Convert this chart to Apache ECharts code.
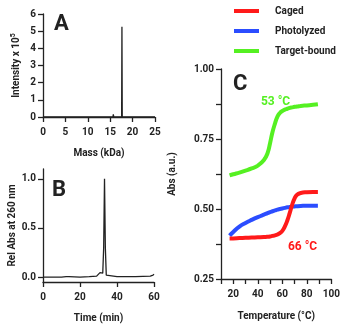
<!DOCTYPE html>
<html>
<head>
<meta charset="utf-8">
<script src="https://cdn.jsdelivr.net/npm/echarts@6/dist/echarts.min.js"></script>
<style>
  html, body { margin: 0; padding: 0; background: #fff; }
  #chart { width: 343px; height: 326px; }
</style>
</head>
<body>
<div id="chart"></div>
<script>
// ---- panel A : deconvoluted mass spectrum
var massKDa   = [0, 11.5, 11.65, 11.8, 15.0, 15.05, 15.1, 15.6, 15.7, 15.8, 17.55, 17.62, 17.69, 25];
var intensity = [0, 0, 0.06, 0, 0, 0.05, 0, 0, 0.15, 0, 0, 5.25, 0, 0];

// ---- panel B : HPLC trace
var timeMin = [0, 5, 10, 12.5, 13.2, 14, 20, 25, 29, 30, 30.8, 31.3, 31.8, 32.3, 32.8, 33.25, 33.7, 34.2, 35, 40, 50, 58, 59.5, 60];
var relAbs  = [0, 0, 0, 0.005, 0.02, 0.005, 0, 0.005, 0.01, 0.03, 0.045, 0.03, 0.05, 0.04, 0.3, 1.0, 0.3, 0.02, 0.01, 0.005, 0.005, 0.01, 0.02, 0.03];

// ---- panel C : melting curves
var tempC = [17, 20, 25, 30, 35, 40, 45, 48, 50, 52, 54, 56, 58, 60, 62, 64, 66, 68, 70, 72, 75, 80, 85, 89];
var caged = [0.395, 0.395, 0.396, 0.397, 0.398, 0.399, 0.400, 0.401, 0.402, 0.404, 0.406, 0.409, 0.414, 0.422, 0.437, 0.458, 0.485, 0.515, 0.538, 0.551, 0.557, 0.560, 0.561, 0.561];
var photolyzed = [0.405, 0.418, 0.437, 0.450, 0.461, 0.471, 0.480, 0.485, 0.489, 0.492, 0.495, 0.498, 0.500, 0.502, 0.504, 0.506, 0.507, 0.508, 0.509, 0.510, 0.511, 0.512, 0.512, 0.512];
var targetBound = [0.620, 0.624, 0.630, 0.637, 0.645, 0.655, 0.675, 0.700, 0.735, 0.775, 0.805, 0.830, 0.843, 0.850, 0.855, 0.858, 0.861, 0.863, 0.865, 0.866, 0.868, 0.870, 0.872, 0.874];
var seriesNames = ['Caged', 'Photolyzed', 'Target-bound'];
var seriesColors = ['#ff1a1a', '#2b4dff', '#55f022'];
var tmLabels = [{ text: '53 °C', t: 54.5, v: 0.882, color: '#55f022' }, { text: '66 °C', t: 76.5, v: 0.363, color: '#ff1a1a' }];

function zip(xs, ys) {
    return xs.map(function (x, i) { return [x, ys[i]]; });
}

var FONT = 'Roboto';
var INK = '#222';

function axisBase() {
    return {
        axisLine: { show: true, onZero: false, lineStyle: { color: INK, width: 1.3 } },
        axisTick: { show: true, length: 5, lineStyle: { color: INK, width: 1.3 } },
        axisLabel: { color: INK, fontFamily: FONT, fontWeight: 'bold', fontSize: 10, margin: 7 },
        splitLine: { show: false },
        nameLocation: 'middle',
        nameTextStyle: { color: INK, fontFamily: FONT, fontWeight: 'bold', fontSize: 10 }
    };
}

function mk(extra) {
    var a = axisBase();
    for (var k in extra) {
        if (typeof extra[k] === 'object' && !Array.isArray(extra[k]) && a[k]) {
            a[k] = Object.assign({}, a[k], extra[k]);
        } else {
            a[k] = extra[k];
        }
    }
    return a;
}

var chart = echarts.init(document.getElementById('chart'));

var option = {
    animation: false,
    backgroundColor: '#fff',
    grid: [
        { left: 43, top: 14, width: 112, height: 103 },
        { left: 43, top: 169, width: 111, height: 113 },
        { left: 221, top: 69, width: 112, height: 212 }
    ],
    xAxis: [
        mk({ gridIndex: 0, type: 'value', min: 0, max: 25, interval: 5, name: 'Mass (kDa)', nameGap: 31, axisLabel: { margin: 10 } }),
        mk({ gridIndex: 1, type: 'value', min: 0, max: 60, interval: 20, name: 'Time (min)', nameGap: 31, axisLabel: { margin: 10 } }),
        mk({
            gridIndex: 2, type: 'value', min: 10, max: 100, interval: 10, name: 'Temperature (°C)', nameGap: 32,
            axisLabel: { margin: 10, formatter: function (v) { return v % 20 === 0 ? String(v) : ''; } }
        })
    ],
    yAxis: [
        mk({ gridIndex: 0, type: 'value', min: 0, max: 6, interval: 1, name: 'Intensity x 10{sup|5}', nameGap: 20,
            nameTextStyle: { rich: { sup: { fontSize: 7, fontWeight: 'bold', fontFamily: FONT, color: INK, verticalAlign: 'top', padding: [0, 0, 6, 0] } } } }),
        mk({
            gridIndex: 1, type: 'value', min: -0.05, max: 1.1, name: 'Rel Abs at 260 nm', nameGap: 22,
            axisTick: { customValues: [0, 0.5, 1] },
            axisLabel: { customValues: [0, 0.5, 1], formatter: function (v) { return v.toFixed(1); } }
        }),
        mk({
            gridIndex: 2, type: 'value', min: 0.25, max: 1.0, interval: 0.125, name: 'Abs (a.u.)', nameGap: 44,
            nameMoveOverlap: false,
            axisLabel: { formatter: function (v) { return Math.abs(v / 0.25 - Math.round(v / 0.25)) < 1e-6 ? v.toFixed(2) : ''; } }
        })
    ],
    legend: {
        data: seriesNames,
        orient: 'vertical',
        left: 229,
        top: -1,
        icon: 'rect',
        itemWidth: 25,
        itemHeight: 4,
        itemGap: 6,
        textStyle: { color: INK, fontFamily: FONT, fontWeight: 'bold', fontSize: 10, padding: [0, 0, 0, 11], lineHeight: 14 }
    },
    graphic: [
        { type: 'text', left: 54, top: 13, style: { text: 'A', font: 'bold 22px ' + FONT, fill: INK } },
        { type: 'text', left: 52, top: 179, style: { text: 'B', font: 'bold 22px ' + FONT, fill: INK } },
        { type: 'text', left: 233, top: 73, style: { text: 'C', font: 'bold 22px ' + FONT, fill: INK } }
    ],
    series: [
        {
            type: 'line', xAxisIndex: 0, yAxisIndex: 0, data: zip(massKDa, intensity),
            showSymbol: false, lineStyle: { color: INK, width: 1.3 }, z: 3
        },
        {
            type: 'line', xAxisIndex: 1, yAxisIndex: 1, data: zip(timeMin, relAbs),
            showSymbol: false, lineStyle: { color: INK, width: 1.3 }, z: 3
        }
    ]
};

var cValues = [caged, photolyzed, targetBound];
seriesNames.forEach(function (name, i) {
    var s = {
        name: name, type: 'line', xAxisIndex: 2, yAxisIndex: 2,
        data: zip(tempC, cValues[i]), smooth: true, showSymbol: false,
        color: seriesColors[i],
        lineStyle: { color: seriesColors[i], width: 4 },
        z: i === 0 ? 4 : 3
    };
    option.series.push(s);
});

// transition temperature annotations, attached to their curves
tmLabels.forEach(function (lb) {
    var idx = seriesColors.indexOf(lb.color);
    var s = option.series[2 + idx];
    s.markPoint = {
        symbol: 'circle', symbolSize: 0, silent: true,
        label: { show: true, position: 'inside', formatter: lb.text, color: lb.color, fontFamily: FONT, fontWeight: 'bold', fontSize: 12 },
        data: [{ coord: [lb.t, lb.v] }]
    };
});

chart.setOption(option);
</script>
</body>
</html>
